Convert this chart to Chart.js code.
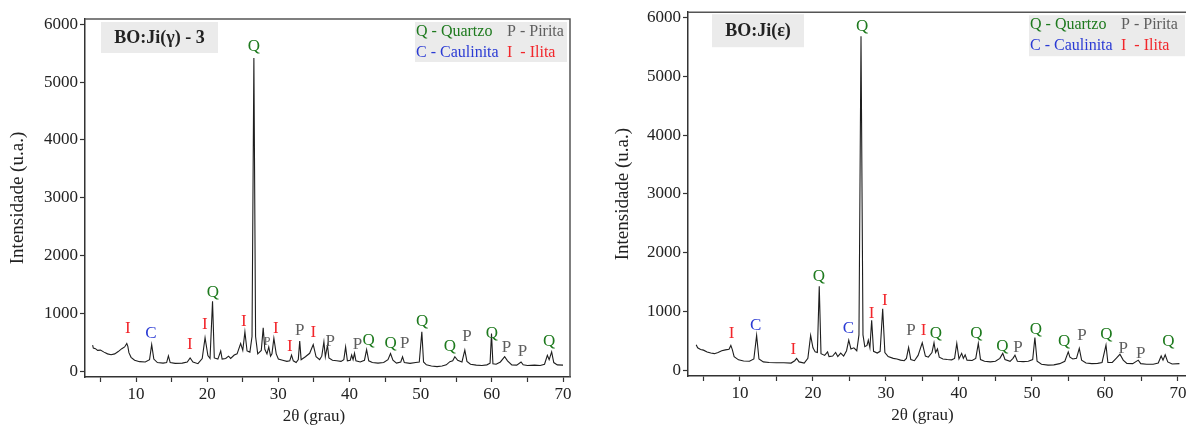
<!DOCTYPE html>
<html>
<head>
<meta charset="utf-8">
<script src="https://cdn.jsdelivr.net/npm/chart.js@4"></script>
<style>
html, body { margin: 0; padding: 0; background: #fff; overflow: hidden; width: 1186px; height: 430px; }
.panel { position: absolute; top: 0; height: 430px; }
#left { left: 0; width: 590px; }
#right { left: 600px; width: 606px; }
</style>
</head>
<body>
<div class="panel" id="left"><canvas id="c1"></canvas></div>
<div class="panel" id="right"><canvas id="c2"></canvas></div>
<script>
// BO:Ji(γ) - 3 : 2θ and intensity
const thetaA = [3.9, 4.0, 4.3, 4.6, 5.0, 5.5, 6.0, 6.5, 7.0, 7.5, 8.0, 8.4, 8.7, 8.85, 9.0, 9.3, 9.8, 10.5, 11.3, 11.9,
  12.2, 12.5, 13.0, 13.8, 14.3, 14.55, 14.8, 15.5, 16.5, 17.2, 17.6, 18.0, 18.7, 19.3, 19.7, 20.1, 20.4, 20.75, 21.0, 21.5,
  21.9, 22.1, 22.6, 23.0, 23.3, 23.8, 24.2, 24.7, 25.0, 25.3, 25.6, 26.0, 26.3, 26.56, 26.8, 27.1, 27.6, 27.87, 28.1, 28.4,
  28.65, 28.9, 29.1, 29.37, 29.7, 30.0, 30.6, 31.2, 31.6, 31.85, 32.1, 32.5, 32.8, 33.0, 33.2, 33.8, 34.4, 34.9, 35.3, 35.8,
  36.1, 36.4, 36.6, 36.9, 37.1, 37.6, 38.2, 38.8, 39.2, 39.45, 39.7, 40.1, 40.3, 40.5, 40.7, 40.9, 41.5, 42.1, 42.4, 42.7,
  43.2, 44.0, 44.8, 45.4, 45.76, 46.1, 46.6, 47.2, 47.45, 47.7, 48.5, 49.3, 49.8, 50.16, 50.4, 50.8, 51.5, 52.3, 53.0, 53.6,
  54.1, 54.5, 54.8, 55.2, 55.8, 56.2, 56.5, 57.0, 57.8, 58.6, 59.3, 59.75, 59.95, 60.15, 60.6, 61.2, 61.8, 62.2, 62.8, 63.5,
  64.1, 64.4, 65.0, 66.0, 66.8, 67.4, 67.8, 68.05, 68.4, 68.7, 69.2, 70.0];
const intA = [450, 400, 390, 360, 365, 330, 300, 285, 300, 340, 390, 420, 480, 430, 320, 240, 190, 165, 160, 200,
  460, 210, 150, 140, 150, 265, 150, 135, 140, 160, 230, 160, 130, 220, 580, 270, 220, 1210, 230, 210,
  350, 210, 220, 260, 220, 280, 300, 480, 360, 680, 350, 330, 600, 5415, 600, 300, 360, 750, 380, 300,
  420, 260, 300, 570, 300, 210, 190, 170, 180, 280, 180, 150, 200, 520, 200, 250, 310, 460, 250, 200,
  260, 510, 250, 450, 230, 190, 180, 170, 200, 420, 180, 190, 280, 200, 310, 180, 160, 190, 375, 180,
  150, 140, 150, 200, 306, 190, 140, 160, 250, 150, 135, 150, 160, 680, 160, 110, 90, 80, 90, 110,
  165, 180, 250, 190, 160, 365, 170, 120, 105, 100, 110, 140, 650, 130, 120, 160, 250, 180, 110, 105,
  160, 110, 100, 105, 100, 120, 275, 200, 335, 150, 110, 105];

// BO:Ji(ε) : right pattern
const thetaB = [4.0, 4.2, 4.6, 5.0, 5.5, 6.0, 6.5, 7.0, 7.5, 8.0, 8.5, 8.75, 8.95, 9.2, 9.8, 10.5, 11.3, 11.9, 12.28, 12.6,
  13.2, 14.0, 15.0, 16.0, 17.0, 17.5, 17.76, 18.1, 18.8, 19.3, 19.68, 20.0, 20.3, 20.6, 20.86, 21.1, 21.6, 22.0, 22.2, 22.7,
  23.1, 23.4, 23.8, 24.2, 24.6, 24.9, 25.2, 25.6, 26.0, 26.3, 26.58, 26.85, 27.1, 27.4, 27.58, 27.8, 28.04, 28.3, 28.8, 29.2,
  29.55, 29.85, 30.3, 31.0, 31.5, 32.0, 32.5, 32.8, 33.1, 33.4, 33.9, 34.4, 34.97, 35.4, 35.8, 36.3, 36.58, 36.8, 37.05, 37.3,
  37.8, 38.4, 39.0, 39.4, 39.7, 40.0, 40.37, 40.6, 40.85, 41.1, 41.8, 42.3, 42.65, 42.95, 43.5, 44.3, 45.0, 45.6, 46.0, 46.3,
  47.0, 47.4, 47.67, 48.0, 48.8, 49.5, 50.1, 50.4, 50.7, 51.3, 52.2, 53.0, 53.8, 54.5, 54.97, 55.2, 55.6, 56.1, 56.48, 56.8,
  57.4, 58.2, 59.0, 59.6, 60.14, 60.4, 61.0, 61.6, 62.05, 62.5, 63.0, 63.8, 64.56, 64.9, 65.7, 66.6, 67.3, 67.7, 67.95, 68.25,
  68.6, 69.2, 70.2];
const intB = [430, 380, 350, 340, 310, 290, 280, 300, 330, 345, 355, 420, 350, 230, 175, 155, 150, 190, 590, 190,
  140, 130, 125, 125, 120, 160, 200, 140, 120, 200, 590, 380, 310, 300, 1425, 280, 250, 310, 230, 240,
  300, 230, 290, 240, 330, 510, 360, 380, 330, 600, 5680, 600, 400, 420, 510, 380, 850, 320, 290, 320,
  1045, 300, 230, 200, 190, 170, 160, 200, 385, 180, 160, 250, 465, 240, 220, 300, 465, 300, 360, 220,
  190, 180, 175, 200, 455, 190, 285, 200, 260, 170, 165, 200, 455, 180, 150, 140, 150, 200, 285, 180,
  150, 200, 255, 150, 145, 150, 180, 555, 150, 100, 85, 90, 110, 150, 310, 220, 190, 200, 370, 170,
  120, 110, 115, 130, 425, 130, 130, 210, 270, 170, 115, 110, 170, 110, 100, 100, 120, 240, 170, 260,
  140, 105, 110];

// phase letters above the peaks (2θ, intensity, letter; "p" = small P)
const markA_x = [26.56, 8.85, 12.1, 17.56, 19.67, 20.8, 25.15, 28.4, 29.65, 31.6, 33.0, 34.9, 37.3, 41.1, 42.7, 45.76, 47.75, 50.2, 54.1, 56.5, 60.0, 62.06, 64.3, 68.05];
const markA_y = [5611, 744, 657, 467, 813, 1367, 865, 500, 744, 432, 710, 663, 519, 462, 536, 479, 479, 853, 420, 594, 652, 403, 334, 519];
const markA_t = ["Q", "I", "C", "I", "I", "Q", "I", "p", "I", "I", "P", "I", "P", "P", "Q", "Q", "P", "Q", "Q", "P", "Q", "P", "P", "Q"];

const markB_x = [26.75, 8.86, 12.15, 17.3, 20.8, 24.84, 28.04, 29.86, 33.42, 35.16, 36.85, 42.4, 45.96, 48.1, 50.55, 54.4, 56.85, 60.2, 62.5, 64.9, 68.7];
const markB_y = [5847, 622, 751, 356, 1593, 706, 960, 1186, 678, 678, 622, 622, 407, 378, 695, 480, 581, 605, 367, 282, 491];
const markB_t = ["Q", "I", "C", "I", "Q", "C", "I", "I", "P", "I", "Q", "Q", "Q", "P", "Q", "Q", "P", "Q", "P", "P", "Q"];

const yTicks = [0, 1000, 2000, 3000, 4000, 5000, 6000];
const xTicks = [5, 10, 15, 20, 25, 30, 35, 40, 45, 50, 55, 60, 65, 70];
const xLabels = [10, 20, 30, 40, 50, 60, 70];

const phaseColor = { Q: "#1e7a1e", C: "#2a3ad4", I: "#f2262b", P: "#5e5e5e" };
const serif = "'Liberation Serif', 'DejaVu Serif', serif";

const decor = {
  id: "decor",
  afterDraw(chart, args, o) {
    const ctx = chart.ctx, a = chart.chartArea;
    const xs = chart.scales.x, ys = chart.scales.y;
    ctx.save();

    // frame on top (and right)
    ctx.strokeStyle = "#555";
    ctx.lineWidth = 1.5;
    ctx.beginPath();
    ctx.moveTo(a.left, a.top);
    ctx.lineTo(a.right, a.top);
    if (o.rightBorder) ctx.lineTo(a.right, a.bottom);
    ctx.stroke();

    // peak letters
    ctx.textAlign = "center";
    ctx.textBaseline = "middle";
    o.mx.forEach((t, i) => {
      const s = o.mt[i];
      ctx.font = (s === "p" ? "12px " : "17px ") + serif;
      ctx.fillStyle = phaseColor[s.toUpperCase()];
      ctx.fillText(s.toUpperCase(), xs.getPixelForValue(t), ys.getPixelForValue(o.my[i]));
    });

    // sample name box
    ctx.fillStyle = "#ebebeb";
    ctx.fillRect(a.left + o.tb[0], a.top + o.tb[1], o.tb[2], o.tb[3]);
    ctx.fillStyle = "#222";
    ctx.font = "bold 18px " + serif;
    ctx.fillText(o.name, a.left + o.tb[0] + o.tb[2] / 2, a.top + o.tb[1] + o.tb[3] / 2 + 1);

    // phase legend
    const lx = a.right - o.lg[0], ly = a.top + o.lg[1];
    ctx.fillStyle = "#ebebeb";
    ctx.fillRect(lx, ly, o.lg[2], o.lg[3]);
    ctx.textAlign = "left";
    ctx.font = "16px " + serif;
    ctx.fillStyle = phaseColor.Q; ctx.fillText("Q - Quartzo", lx + 1, ly + 10);
    ctx.fillStyle = phaseColor.P; ctx.fillText("P - Pirita", lx + 92, ly + 10);
    ctx.fillStyle = phaseColor.C; ctx.fillText("C - Caulinita", lx + 1, ly + 31);
    ctx.fillStyle = phaseColor.I; ctx.fillText("I  - Ilita", lx + 92, ly + 31);

    // axis titles
    ctx.fillStyle = "#222";
    ctx.font = "17px " + serif;
    ctx.textAlign = "center";
    ctx.fillText("2θ (grau)", xs.getPixelForValue(35), a.bottom + 40);
    ctx.font = "19px " + serif;
    ctx.translate(a.left - o.yt, (a.top + a.bottom) / 2);
    ctx.rotate(-Math.PI / 2);
    ctx.fillText("Intensidade (u.a.)", 0, 0);
    ctx.restore();
  }
};

function makeChart(id, theta, inten, xMin, xMax, yWidth, xHeight, pad, deco) {
  return new Chart(document.getElementById(id), {
    type: "line",
    data: {
      datasets: [{
        data: theta.map((t, i) => ({ x: t, y: inten[i] })),
        borderColor: "#1e1e1e",
        borderWidth: 1.1,
        pointRadius: 0,
        tension: 0,
      }],
    },
    options: {
      responsive: true,
      maintainAspectRatio: false,
      animation: false,
      events: [],
      layout: { padding: pad },
      plugins: { legend: { display: false }, tooltip: { enabled: false }, decor: deco },
      scales: {
        x: {
          type: "linear",
          min: xMin,
          max: xMax,
          afterBuildTicks: s => { s.ticks = xTicks.map(v => ({ value: v })); },
          ticks: {
            autoSkip: false,
            maxRotation: 0,
            padding: 2,
            color: "#222",
            font: { family: serif, size: 17 },
            callback: v => (xLabels.includes(v) ? v : ""),
          },
          grid: { drawOnChartArea: false, tickLength: 5, color: "#333", tickWidth: 1.2 },
          border: { color: "#333", width: 1.5 },
          afterFit: s => { s.height = xHeight; },
        },
        y: {
          min: -100,
          max: 6090,
          afterBuildTicks: s => { s.ticks = yTicks.map(v => ({ value: v })); },
          ticks: {
            autoSkip: false,
            padding: 2,
            color: "#222",
            font: { family: serif, size: 17 },
            callback: v => v,
          },
          grid: { drawOnChartArea: false, tickLength: 5, color: "#333", tickWidth: 1.2 },
          border: { color: "#333", width: 1.5 },
          afterFit: s => { s.width = yWidth; },
        },
      },
    },
    plugins: [decor],
  });
}

makeChart("c1", thetaA, intA, 2.83, 70.98, 85, 53, { left: 0, right: 20, top: 19, bottom: 0 }, {
  mx: markA_x, my: markA_y, mt: markA_t, rightBorder: true,
  name: "BO:Ji(γ) - 3", tb: [16, 3, 117, 31], lg: [155, 3, 152, 40], yt: 67,
});

makeChart("c2", thetaB, intB, 2.88, 71.1, 88, 54, { left: 0, right: 20, top: 10, bottom: 0 }, {
  mx: markB_x, my: markB_y, mt: markB_t, rightBorder: false,
  name: "BO:Ji(ε)", tb: [24, 2, 92, 33], lg: [157, 3, 156, 41], yt: 65,
});
</script>
</body>
</html>
